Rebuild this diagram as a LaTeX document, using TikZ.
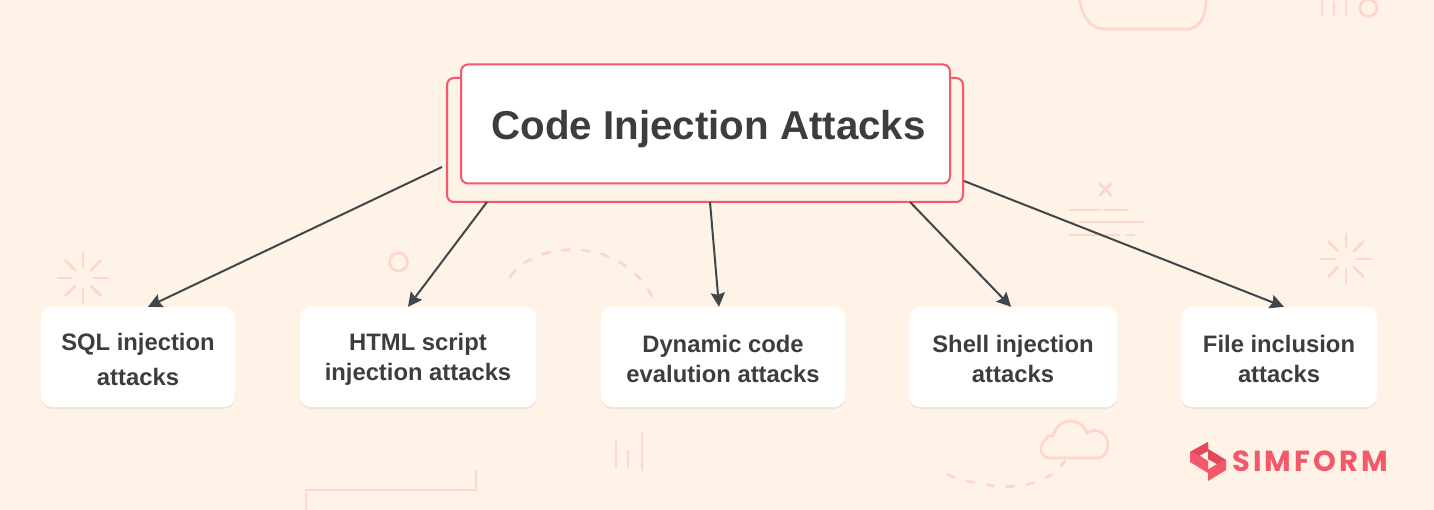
\documentclass[tikz,border=0pt]{standalone}
\usepackage{fontspec}
\setmainfont{Liberation Sans}
\newfontfamily\logofont{Poppins}
\usetikzlibrary{positioning}
\usetikzlibrary{calc}
\usetikzlibrary{shadows}
\usetikzlibrary{arrows.meta}
\definecolor{paper}{HTML}{FFF2E7}
\definecolor{doodle}{HTML}{FFD5D0}
\definecolor{rim}{HTML}{F4596B}
\definecolor{rimdark}{HTML}{E5485B}
\definecolor{ink}{HTML}{3D3D3D}
\definecolor{wire}{HTML}{3F474C}
\tikzset{
  titlebox/.style={draw=rim,line width=2pt,rounded corners=7pt,inner sep=0pt},
  leafbox/.style={fill=white,rounded corners=11pt,inner sep=0pt,align=center,
    font=\bfseries\fontsize{23.8}{30}\selectfont,text=ink,text height=52pt,
    minimum height=100pt,
    drop shadow={shadow xshift=0pt,shadow yshift=-2pt,fill=black,opacity=.06}},
  doodleline/.style={draw=doodle,line width=2.7pt,line cap=round},
  wirearrow/.style={color=wire,line width=2pt,-{Stealth[length=14pt,width=14pt,inset=2pt]}},
}
\newcommand{\sparkle}[2]{
  \foreach \ang in {0,45,...,315}
    \draw[doodleline] ($(#1,#2)+(\ang:11)$) -- ($(#1,#2)+(\ang:25)$);
}
\begin{document}
\begin{tikzpicture}[x=1pt,y=-1pt]
  \useasboundingbox (0,0) rectangle (1434,510);
  \fill[paper] (0,0) rectangle (1434,510);

  % background doodles
  \sparkle{83}{278}
  \sparkle{1346}{259}
  \draw[doodleline] (398.5,262) circle (9);
  \draw[doodleline] (1080,0) .. controls (1082,18) and (1092,29) .. (1105,29)
    -- (1187,29) .. controls (1198,29) and (1206,18) .. (1206,0);
  \draw[doodleline] (1322,0) -- (1322,15) (1334,2) -- (1334,15) (1346,0) -- (1346,15);
  \draw[doodleline] (1368.5,8) circle (8.5);
  \draw[doodleline] (1100,184) -- (1111,195) (1111,184) -- (1100,195);
  \draw[doodleline] (1070,210) -- (1100,210) (1104,210) -- (1127,210);
  \draw[doodleline] (1070,222) -- (1075,222) (1080,222) -- (1144,222);
  \draw[doodleline] (1070,235) -- (1119,235) (1127,235) -- (1134,235);
  \draw[doodleline,dash pattern=on 8pt off 12pt] (510,277) .. controls (535,240) and (620,235) .. (652,296);
  \draw[doodleline] (306,510) -- (306,490) -- (476,490) -- (476,471);
  \draw[doodleline] (616,441) -- (616,467) (628,451) -- (628,467) (642,433) -- (642,470);
  \draw[doodleline] (1050,458) .. controls (1040,458) and (1037,446) .. (1047,438)
    .. controls (1047,436) and (1050,435) .. (1053,436)
    .. controls (1058,417) and (1080,416) .. (1087,433)
    .. controls (1095,427) and (1108,432) .. (1108,445)
    .. controls (1108,453) and (1103,458) .. (1097,458) -- cycle;
  \draw[doodleline,dash pattern=on 7pt off 13pt] (948,475) .. controls (990,490) and (1040,495) .. (1065,461);

  % title boxes
  \node[titlebox,minimum width=516pt,minimum height=124pt] (backbox) at (705,140) {};
  \node[titlebox,fill=white,minimum width=489pt,minimum height=119pt,text=ink,
        text height=41pt,text depth=10pt,
        font=\bfseries\fontsize{40.3}{50}\selectfont] (titlenode) at (705.5,124) {\hspace*{6pt}Code Injection Attacks};

  % leaf boxes
  \node[leafbox,minimum width=194pt,text height=57pt] (sqlbox) at (138,357) {SQL injection\\[5pt]attacks};
  \node[leafbox,minimum width=237pt] (htmlbox) at (418,357) {HTML script\\injection attacks};
  \node[leafbox,minimum width=244pt] (dynbox) at (723,357) {Dynamic code\\evalution attacks};
  \node[leafbox,minimum width=208pt] (shellbox) at (1013,357) {Shell injection\\attacks};
  \node[leafbox,minimum width=196pt] (filebox) at (1279,357) {File inclusion\\attacks};

  % connectors
  \coordinate (sqlfrom) at (442,167);
  \coordinate (htmlfrom) at (487,202);
  \coordinate (dynfrom) at (710,202);
  \coordinate (shellfrom) at (910,202);
  \coordinate (filefrom) at (964,181);
  \path[wirearrow] (sqlfrom) edge ([xshift=10pt]sqlbox.north);
  \path[wirearrow] (htmlfrom) edge ([xshift=-10pt]htmlbox.north);
  \path[wirearrow] (dynfrom) edge ([xshift=-4pt]dynbox.north);
  \path[wirearrow] (shellfrom) edge ([xshift=-2pt]shellbox.north);
  \path[wirearrow] (filefrom) edge ([xshift=5pt]filebox.north);

  % logo
  \fill[rim,even odd rule] (1190,452) -- (1208,442) -- (1208,449) -- (1226,460) -- (1226,470) -- (1208,481) -- (1208,473) -- (1190,462) -- cycle
    (1199.5,455.5) -- (1208,451) -- (1208,459) -- (1217,464) -- (1208,469.5) -- (1208,461) -- cycle;
  \fill[rimdark] (1190,452) -- (1208,442) -- (1208,451) -- (1199.5,455.5) -- cycle;
  \fill[rimdark] (1208,449) -- (1226,460) -- (1217,464) -- (1208,459) -- cycle;
  \node[inner sep=0pt,anchor=west,text=rim,font=\logofont\bfseries\fontsize{29}{30}\selectfont\addfontfeature{LetterSpace=10.5}] (logotext) at (1232,461) {SIMFORM};
\end{tikzpicture}
\end{document}
